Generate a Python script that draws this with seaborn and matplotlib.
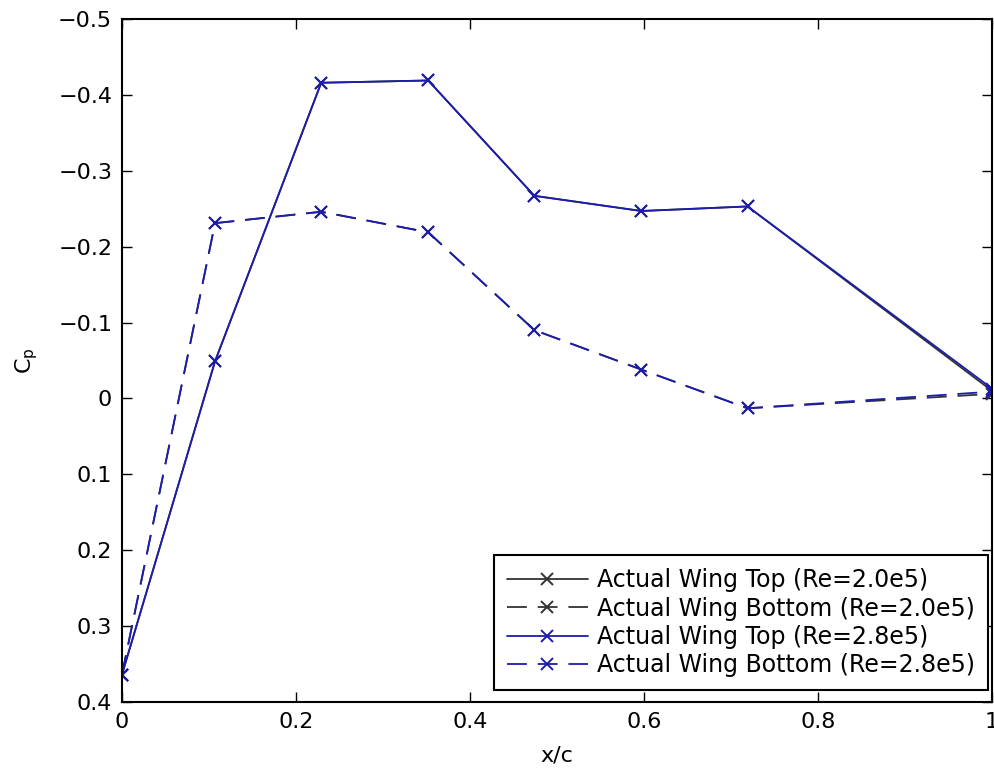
import matplotlib
matplotlib.use("Agg")
import matplotlib.pyplot as plt
import seaborn as sns
import numpy as np

sns.set_style("white")
plt.rcParams['font.family'] = ['DejaVu Sans']
plt.rcParams['text.color'] = 'black'
plt.rcParams['axes.labelcolor'] = 'black'
plt.rcParams['xtick.color'] = 'black'
plt.rcParams['ytick.color'] = 'black'

x_c = [0.0, 0.107, 0.229, 0.352, 0.474, 0.597, 0.719, 1.0]
top_re20 = [0.364, -0.049, -0.416, -0.419, -0.267, -0.247, -0.253, -0.010]
bottom_re20 = [0.364, -0.231, -0.246, -0.219, -0.090, -0.038, 0.013, -0.006]
top_re28 = [0.364, -0.049, -0.416, -0.419, -0.267, -0.247, -0.253, -0.013]
bottom_re28 = [0.364, -0.231, -0.246, -0.219, -0.090, -0.038, 0.013, -0.009]

labels = ["Actual Wing Top (Re=2.0e5)", "Actual Wing Bottom (Re=2.0e5)",
          "Actual Wing Top (Re=2.8e5)", "Actual Wing Bottom (Re=2.8e5)"]
series = [top_re20, bottom_re20, top_re28, bottom_re28]
colors = ["#333333", "#333333", "#1c1cb0", "#1c1cb0"]
styles = ["-", "--", "-", "--"]

fig = plt.figure(figsize=(9.94, 7.73), dpi=100)
ax = fig.add_axes([0.1227, 0.0919, 0.8753, 0.8835])

for y, lab, c, ls in zip(series, labels, colors, styles):
    sns.lineplot(x=x_c, y=y, ax=ax, color=c, linestyle=ls, marker='x',
                 markersize=9, markeredgewidth=1.4, markeredgecolor=c,
                 markerfacecolor=c, linewidth=1.3, label=lab, sort=False)
    line = ax.lines[-1]
    if ls == "--":
        line.set_dashes([11, 6])

ax.set_xlim(0, 1)
ax.set_ylim(0.4, -0.5)
ax.set_xticks([0, 0.2, 0.4, 0.6, 0.8, 1])
ax.set_xticklabels(["0", "0.2", "0.4", "0.6", "0.8", "1"])
ax.set_yticks(np.round(np.arange(-0.5, 0.41, 0.1), 1))
ax.set_yticklabels(["\u22120.5", "\u22120.4", "\u22120.3", "\u22120.2", "\u22120.1",
                    "0", "0.1", "0.2", "0.3", "0.4"])
ax.tick_params(direction='in', length=7, width=1, labelsize=16, pad=7,
               top=True, right=True, bottom=True, left=True,
               colors='black', labelcolor='black')
for s in ax.spines.values():
    s.set_visible(True)
    s.set_color('black')
    s.set_linewidth(1.5)
ax.set_xlabel("x/c", fontsize=16, labelpad=10, color='black')
ax.set_ylabel(r"C$_\mathregular{p}$", fontsize=16, labelpad=13, color='black')

leg = ax.legend(loc='lower right', bbox_to_anchor=(0.9954, 0.0175), fontsize=17,
                frameon=True, fancybox=False, edgecolor='black', framealpha=1,
                borderpad=0.55, labelspacing=0.18, handlelength=3.4,
                handletextpad=0.4, borderaxespad=0, labelcolor='black')
leg.get_frame().set_linewidth(1.5)

fig.savefig("out.png", dpi=100)
